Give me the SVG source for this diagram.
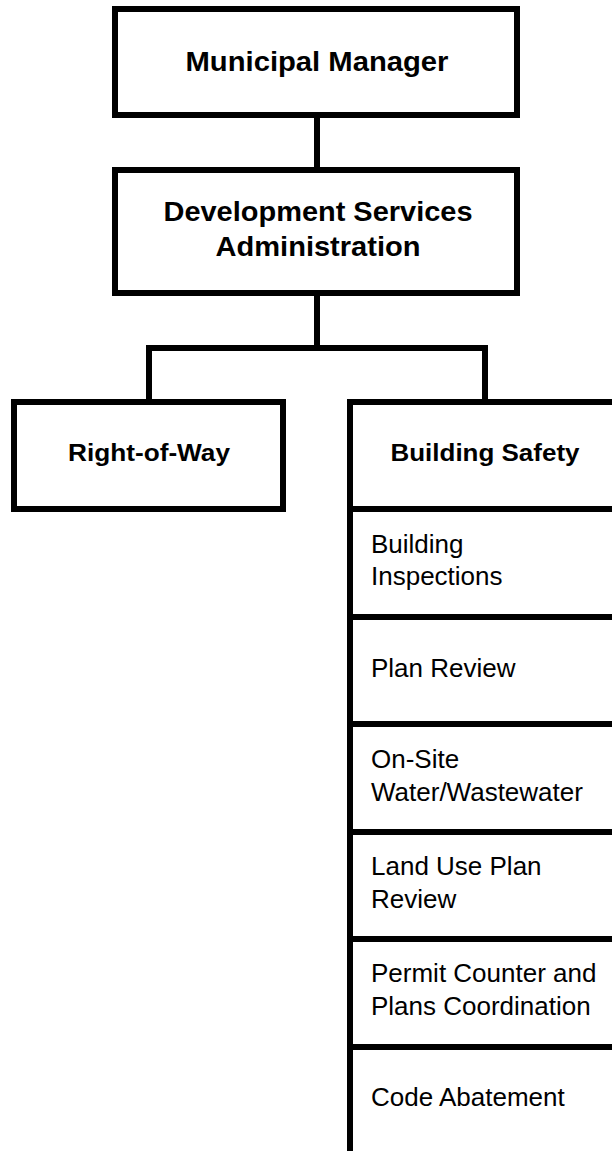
<svg xmlns="http://www.w3.org/2000/svg" width="612" height="1151" viewBox="0 0 612 1151">
<style>
.box{fill:#fff;stroke:#000;stroke-width:6}
.ln{fill:none;stroke:#000;stroke-width:6;stroke-linecap:square}
.b1{font-family:"Liberation Sans",Arial,sans-serif;font-weight:bold;font-size:27px;fill:#000;text-anchor:middle}
.b2{font-family:"Liberation Sans",Arial,sans-serif;font-weight:bold;font-size:24px;fill:#000;text-anchor:middle}
.t{font-family:"Liberation Sans",Arial,sans-serif;font-size:26px;fill:#000}
</style>
<rect width="612" height="1151" fill="#fff"/>
<g id="connectors">
<path class="ln" d="M317,118 V170"/>
<path class="ln" d="M317,296 V348"/>
<path class="ln" d="M149,402 V348 H485 V402"/>
</g>
<g id="municipal-manager">
<rect class="box" x="115" y="9" width="402" height="106"/>
<text class="b1" x="317" y="71" textLength="263" lengthAdjust="spacingAndGlyphs">Municipal Manager</text>
</g>
<g id="development-services">
<rect class="box" x="115" y="170" width="402" height="123"/>
<text class="b1" x="318" y="221" textLength="309" lengthAdjust="spacingAndGlyphs">Development Services</text>
<text class="b1" x="318" y="256" textLength="205" lengthAdjust="spacingAndGlyphs">Administration</text>
</g>
<g id="right-of-way">
<rect class="box" x="14" y="402" width="269" height="107"/>
<text class="b2" x="149" y="461" textLength="162" lengthAdjust="spacingAndGlyphs">Right-of-Way</text>
</g>
<g id="building-safety">
<path class="ln" d="M620,402 H350 V1160"/>
<text class="b2" x="485" y="461" textLength="189" lengthAdjust="spacingAndGlyphs">Building Safety</text>
</g>
<g id="building-inspections">
<path class="ln" d="M350,509 H620"/>
<text class="t" x="371" y="553">Building</text>
<text class="t" x="371" y="585">Inspections</text>
</g>
<g id="plan-review">
<path class="ln" d="M350,617 H620"/>
<text class="t" x="371" y="677">Plan Review</text>
</g>
<g id="on-site-water">
<path class="ln" d="M350,724 H620"/>
<text class="t" x="371" y="768">On-Site</text>
<text class="t" x="371" y="801">Water/Wastewater</text>
</g>
<g id="land-use-plan-review">
<path class="ln" d="M350,832 H620"/>
<text class="t" x="371" y="875">Land Use Plan</text>
<text class="t" x="371" y="908">Review</text>
</g>
<g id="permit-counter">
<path class="ln" d="M350,939 H620"/>
<text class="t" x="371" y="982">Permit Counter and</text>
<text class="t" x="371" y="1015">Plans Coordination</text>
</g>
<g id="code-abatement">
<path class="ln" d="M350,1047 H620"/>
<text class="t" x="371" y="1106">Code Abatement</text>
</g>
</svg>
